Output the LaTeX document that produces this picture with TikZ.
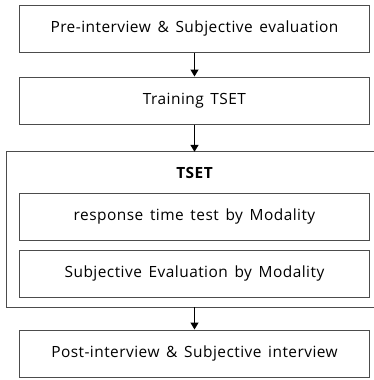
\documentclass[tikz,border=0pt]{standalone}
\usepackage{fontspec}
\setmainfont{Open Sans}[LetterSpace=3,WordSpace=1.5]
\usetikzlibrary{arrows.meta}
\begin{document}
\begin{tikzpicture}[x=1bp,y=-1bp,
  stepbox/.style={draw=black!70,line width=1bp,minimum width=350bp,minimum height=47bp,
    inner sep=0pt,font=\fontsize{15.5}{18}\selectfont},
  groupbox/.style={draw=black!70,line width=1bp},
  flow/.style={-{Triangle[length=7bp,width=8bp]},line width=1.4bp,black}]
\useasboundingbox (0,0) rectangle (374,380);
\begin{scope}
\clip (0,0) rectangle (374,380);
% main sequence of steps
\node[stepbox] (pre) at (194.5,28.5) {Pre-interview \& Subjective evaluation};
\node[stepbox] (train) at (194.5,100.5) {Training TSET};
% TSET group: open on the right, where it runs past the page edge
\node[minimum width=383bp,minimum height=155bp,inner sep=0pt] (tset) at (198.5,229.5) {};
\draw[groupbox] (tset.north east) -- (tset.north west) -- (tset.south west) -- (tset.south east);
\node[font=\fontsize{15.5}{18}\selectfont\bfseries] (tsetlabel) at (194.5,173) {TSET};
\node[stepbox] (rt) at (194.5,216.5) {response time test by Modality};
\node[stepbox] (se) at (194.5,273.5) {Subjective Evaluation by Modality};
\node[stepbox] (post) at (194.5,353.5) {Post-interview \& Subjective interview};
% connectors
\draw[flow] (pre.south -| 194.5,0) -- (train.north -| 194.5,0);
\draw[flow] (train.south -| 194.5,0) -- (tset.north -| 194.5,0);
\draw[flow] (tset.south -| 194.5,0) -- (post.north -| 194.5,0);
\end{scope}
\end{tikzpicture}
\end{document}
